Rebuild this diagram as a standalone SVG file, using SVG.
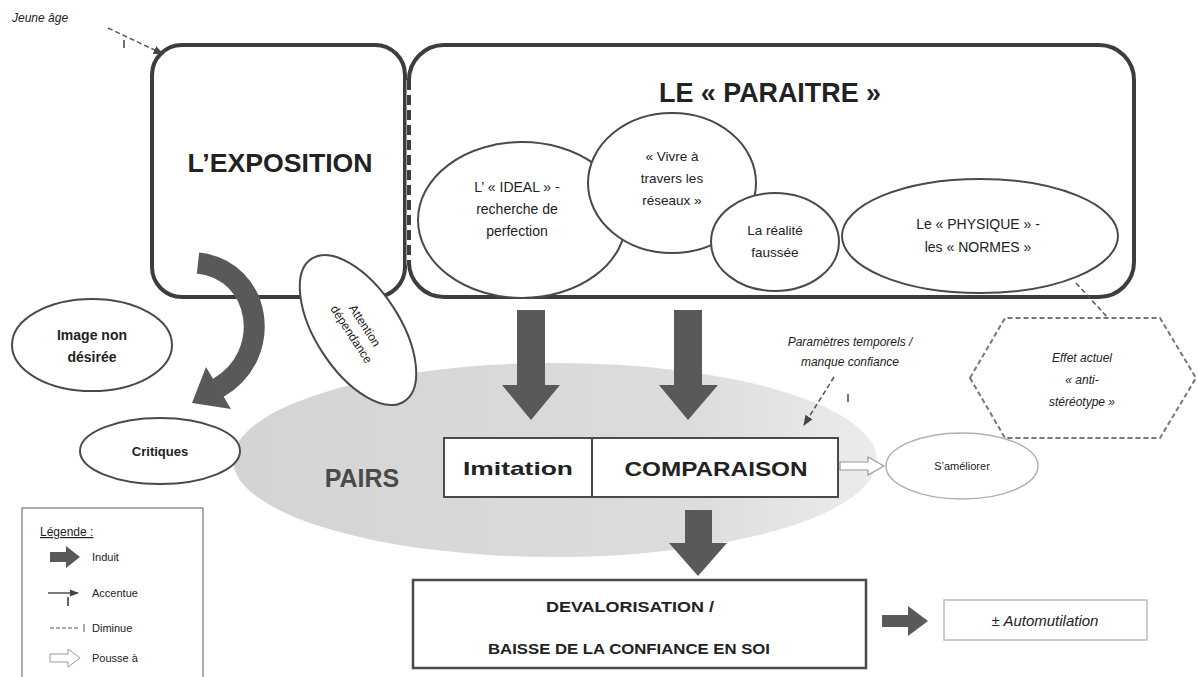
<svg xmlns="http://www.w3.org/2000/svg" width="1198" height="677" viewBox="0 0 1198 677">
<defs>
<style>
.t{font-family:"Liberation Sans",Arial,sans-serif;fill:#222}
.b{font-weight:bold}
.i{font-style:italic}
.box{fill:#fff;stroke:#3d3d3d;stroke-width:4}
.ell{fill:#fff;stroke:#4a4a4a;stroke-width:2}
.dash{fill:none;stroke:#555;stroke-width:1.5;stroke-dasharray:5 3}
.big{fill:#595959}
</style>
<linearGradient id="pg" x1="0" y1="0" x2="1" y2="0">
<stop offset="0" stop-color="#d4d4d4"/>
<stop offset="0.7" stop-color="#dcdcdc"/>
<stop offset="1" stop-color="#ececec"/>
</linearGradient>
<marker id="ah" viewBox="0 0 10 10" refX="9" refY="5" markerWidth="7" markerHeight="7" orient="auto">
<path d="M0,1 L10,5 L0,9 z" fill="#444"/>
</marker>
</defs>
<rect width="1198" height="677" fill="#fff"/>

<g id="pairs">
<ellipse cx="555" cy="460" rx="322" ry="97" fill="url(#pg)"/>
<text class="t b" x="362" y="487" font-size="25" fill="#505050" text-anchor="middle" style="fill:#4a4a4a">PAIRS</text>
</g>

<g id="exposition">
<rect class="box" x="152" y="45" width="253" height="252" rx="30"/>
<text class="t b" x="280" y="172" font-size="26" text-anchor="middle" textLength="185" lengthAdjust="spacingAndGlyphs">L’EXPOSITION</text>
</g>

<g id="paraitre">
<rect class="box" x="409" y="45" width="725" height="252" rx="35"/>
<line x1="409" y1="80" x2="409" y2="265" stroke="#fff" stroke-width="5"/>
<line x1="409" y1="80" x2="409" y2="265" stroke="#3d3d3d" stroke-width="4" stroke-dasharray="10 5"/>
<text class="t b" x="770" y="102" font-size="28" text-anchor="middle" textLength="222" lengthAdjust="spacingAndGlyphs">LE « PARAITRE »</text>
</g>

<g id="ideal">
<ellipse class="ell" cx="522" cy="220" rx="104" ry="78"/>
<text class="t" font-size="14" text-anchor="middle"><tspan x="517" y="192">L’ « IDEAL » -</tspan><tspan x="517" y="214">recherche de</tspan><tspan x="517" y="236">perfection</tspan></text>
</g>
<g id="vivre">
<ellipse class="ell" cx="672" cy="183" rx="84" ry="70"/>
<text class="t" font-size="13.5" text-anchor="middle"><tspan x="672" y="161">« Vivre à</tspan><tspan x="672" y="183">travers les</tspan><tspan x="672" y="205">réseaux »</tspan></text>
</g>
<g id="realite">
<ellipse class="ell" cx="775" cy="242" rx="64" ry="49"/>
<text class="t" font-size="13.5" text-anchor="middle"><tspan x="775" y="235">La réalité</tspan><tspan x="775" y="257">faussée</tspan></text>
</g>
<g id="physique">
<ellipse class="ell" cx="980" cy="236" rx="138" ry="57"/>
<text class="t" font-size="14" text-anchor="middle"><tspan x="978" y="229">Le « PHYSIQUE » -</tspan><tspan x="978" y="252">les « NORMES »</tspan></text>
</g>

<g id="attention">
<ellipse class="ell" cx="358" cy="330" rx="85" ry="42" transform="rotate(57 358 330)"/>
<text class="t" font-size="12" text-anchor="middle" transform="rotate(57 358 330)"><tspan x="358" y="326">Attention</tspan><tspan x="358" y="342">dépendance</tspan></text>
</g>

<g id="image">
<ellipse class="ell" cx="92" cy="345" rx="80" ry="46"/>
<text class="t b" font-size="14" text-anchor="middle"><tspan x="92" y="340">Image non</tspan><tspan x="92" y="362">désirée</tspan></text>
</g>
<g id="critiques">
<ellipse class="ell" cx="160" cy="451" rx="80" ry="33"/>
<text class="t b" x="160" y="456" font-size="13" text-anchor="middle">Critiques</text>
</g>

<g id="imitation">
<rect x="444" y="438" width="148" height="59" fill="#fff" stroke="#4a4a4a" stroke-width="2"/>
<text class="t b" x="518" y="475" font-size="19" text-anchor="middle" textLength="110" lengthAdjust="spacingAndGlyphs">Imitation</text>
</g>
<g id="comparaison">
<rect x="592" y="438" width="246" height="59" fill="#fff" stroke="#4a4a4a" stroke-width="2"/>
<text class="t b" x="716" y="476" font-size="21" text-anchor="middle" textLength="183" lengthAdjust="spacingAndGlyphs">COMPARAISON</text>
</g>

<g id="ameliorer">
<ellipse cx="962" cy="466" rx="76" ry="33" fill="#fff" stroke="#b0b0b0" stroke-width="1.5"/>
<text class="t" x="962" y="470" font-size="11" text-anchor="middle">S’améliorer</text>
</g>

<g id="parametres">
<text class="t i" font-size="12" text-anchor="middle"><tspan x="850" y="346">Paramètres temporels /</tspan><tspan x="850" y="366">manque confiance</tspan></text>
</g>

<g id="effet">
<polygon points="970,378 1005,318 1160,318 1196,378 1160,438 1005,438" fill="#fff" stroke="#777" stroke-width="2" stroke-dasharray="5 3"/>
<text class="t i" font-size="12" text-anchor="middle"><tspan x="1082" y="362">Effet actuel</tspan><tspan x="1082" y="384">« anti-</tspan><tspan x="1082" y="406">stéréotype »</tspan></text>
</g>

<g id="devalorisation">
<rect x="413" y="580" width="453" height="88" fill="#fff" stroke="#4a4a4a" stroke-width="2.5"/>
<text class="t b" x="630" y="612" font-size="15" text-anchor="middle" textLength="168" lengthAdjust="spacingAndGlyphs">DEVALORISATION  /</text>
<text class="t b" x="629" y="654" font-size="15" text-anchor="middle" textLength="282" lengthAdjust="spacingAndGlyphs">BAISSE DE LA CONFIANCE EN SOI</text>
</g>

<g id="automutilation">
<rect x="944" y="600" width="203" height="40" fill="#fff" stroke="#bdbdbd" stroke-width="1.5"/>
<text class="t i" x="1045" y="626" font-size="15" text-anchor="middle">± Automutilation</text>
</g>

<g id="jeune">
<text class="t i" x="12" y="22" font-size="12">Jeune âge</text>
</g>

<g id="legend">
<rect x="22" y="508" width="181" height="175" fill="#fff" stroke="#777" stroke-width="1.2"/>
<text class="t" x="40" y="536" font-size="12" text-decoration="underline">Légende :</text>
<polygon points="50,552 66,552 66,546 80,557 66,568 66,562 50,562" class="big"/>
<text class="t" x="92" y="561" font-size="11">Induit</text>
<line x1="48" y1="593" x2="78" y2="593" stroke="#333" stroke-width="1.3" marker-end="url(#ah)"/>
<line x1="68" y1="597" x2="68" y2="606" stroke="#333" stroke-width="1.5"/>
<text class="t" x="92" y="597" font-size="11">Accentue</text>
<line x1="50" y1="628" x2="80" y2="628" stroke="#555" stroke-width="1" stroke-dasharray="4 2"/>
<line x1="84" y1="624" x2="84" y2="632" stroke="#555" stroke-width="1"/>
<text class="t" x="92" y="632" font-size="11">Diminue</text>
<polygon points="50,654 68,654 68,649 80,658 68,667 68,662 50,662" fill="#fff" stroke="#999" stroke-width="1"/>
<text class="t" x="92" y="662" font-size="11">Pousse à</text>
</g>

<g id="connectors">
<polygon class="big" points="517,310 545,310 545,385 560,385 531,420 502,385 517,385"/>
<polygon class="big" points="674,310 702,310 702,385 718,385 688,420 659,385 674,385"/>
<polygon class="big" points="685,510 712,510 712,543 727,543 698,576 669,543 685,543"/>
<polygon class="big" points="882,615 908,615 908,606 928,621 908,636 908,627 882,627"/>
<path d="M198 263 C262 270 275 355 218 388" fill="none" stroke="#595959" stroke-width="21"/>
<polygon class="big" points="206,367 192,403 231,409"/>
<polygon points="840,462 868,462 868,457 884,466 868,475 868,470 840,470" fill="#fff" stroke="#999" stroke-width="1.2"/>
<line class="dash" x1="108" y1="28" x2="163" y2="54" marker-end="url(#ah)"/>
<line x1="124" y1="40" x2="124" y2="48" stroke="#444" stroke-width="1.5"/>
<line class="dash" x1="834" y1="377" x2="804" y2="425" marker-end="url(#ah)"/>
<line x1="848" y1="394" x2="848" y2="402" stroke="#444" stroke-width="1.5"/>
<line class="dash" x1="1076" y1="283" x2="1108" y2="318"/>
</g>
</svg>
